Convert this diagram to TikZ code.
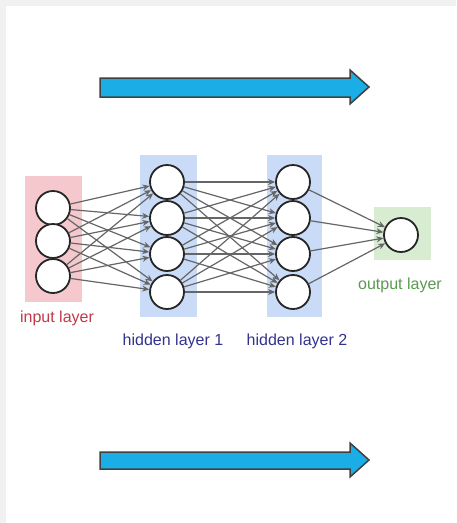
\documentclass[tikz,border=0pt]{standalone}
\usepackage{fontspec}
\setmainfont{Liberation Sans}
\usetikzlibrary{arrows.meta}
\definecolor{pageg}{HTML}{F1F1F1}
\definecolor{pinkbox}{HTML}{F5C8CE}
\definecolor{bluebox}{HTML}{C9DBF7}
\definecolor{greenbox}{HTML}{D8ECD2}
\definecolor{redtxt}{HTML}{C03A48}
\definecolor{bluetxt}{HTML}{33338F}
\definecolor{greentxt}{HTML}{5A9A50}
\definecolor{arrowfill}{HTML}{1AADE6}
\definecolor{edgeg}{HTML}{666666}
\tikzset{
  neuron/.style={circle,draw=black!85,line width=1.8pt,fill=white,minimum size=34pt,inner sep=0pt},
  edge/.style={draw=edgeg,line width=1.2pt,-{Stealth[length=7pt,width=6pt,fill=black!75]}},
  lbl/.style={font=\fontsize{16}{18}\selectfont,inner sep=0pt},
  bigarrow/.style={fill=arrowfill,draw=black!75,line width=1.5pt,line join=miter}
}
\begin{document}
\begin{tikzpicture}[x=1pt,y=-1pt]
\useasboundingbox (0,0) rectangle (456,523);
\fill[pageg] (0,0) rectangle (456,523);
\fill[white] (6,6) rectangle (456,523);
% layer boxes
\fill[pinkbox] (25,176) rectangle (82,302);
\fill[bluebox] (140,155) rectangle (197,317);
\fill[bluebox] (267,155) rectangle (322,317);
\fill[greenbox] (374,207) rectangle (431,260);
% big arrows
\draw[bigarrow] (100,78) -- (350,78) -- (350,70) -- (369,87) -- (350,104) -- (350,97) -- (100,97) -- cycle;
\draw[bigarrow] (100,452) -- (350,452) -- (350,443) -- (369,460) -- (350,477) -- (350,469) -- (100,469) -- cycle;
% neurons
\node[neuron] (i1) at (53,208) {};
\node[neuron] (i2) at (53,241) {};
\node[neuron] (i3) at (53,276) {};
\node[neuron] (a1) at (167,182) {};
\node[neuron] (a2) at (167,218) {};
\node[neuron] (a3) at (167,254) {};
\node[neuron] (a4) at (167,292) {};
\node[neuron] (b1) at (293,182) {};
\node[neuron] (b2) at (293,218) {};
\node[neuron] (b3) at (293,254) {};
\node[neuron] (b4) at (293,292) {};
\node[neuron] (o1) at (401,235) {};
% edges
\foreach \s in {i1,i2,i3}{\foreach \t in {a1,a2,a3,a4}{\draw[edge] (\s) -- (\t);}}
\foreach \s in {a1,a2,a3,a4}{\foreach \t in {b1,b2,b3,b4}{\draw[edge] (\s) -- (\t);}}
\foreach \s in {b1,b2,b3,b4}{\draw[edge] (\s) -- (o1);}
% labels
\node[lbl,text=redtxt] (li) at (57,318) {input layer};
\node[lbl,text=bluetxt] (la) at (173,341) {hidden layer 1};
\node[lbl,text=bluetxt] (lb) at (297,341) {hidden layer 2};
\node[lbl,text=greentxt] (lo) at (400,285) {output layer};
\end{tikzpicture}
\end{document}
